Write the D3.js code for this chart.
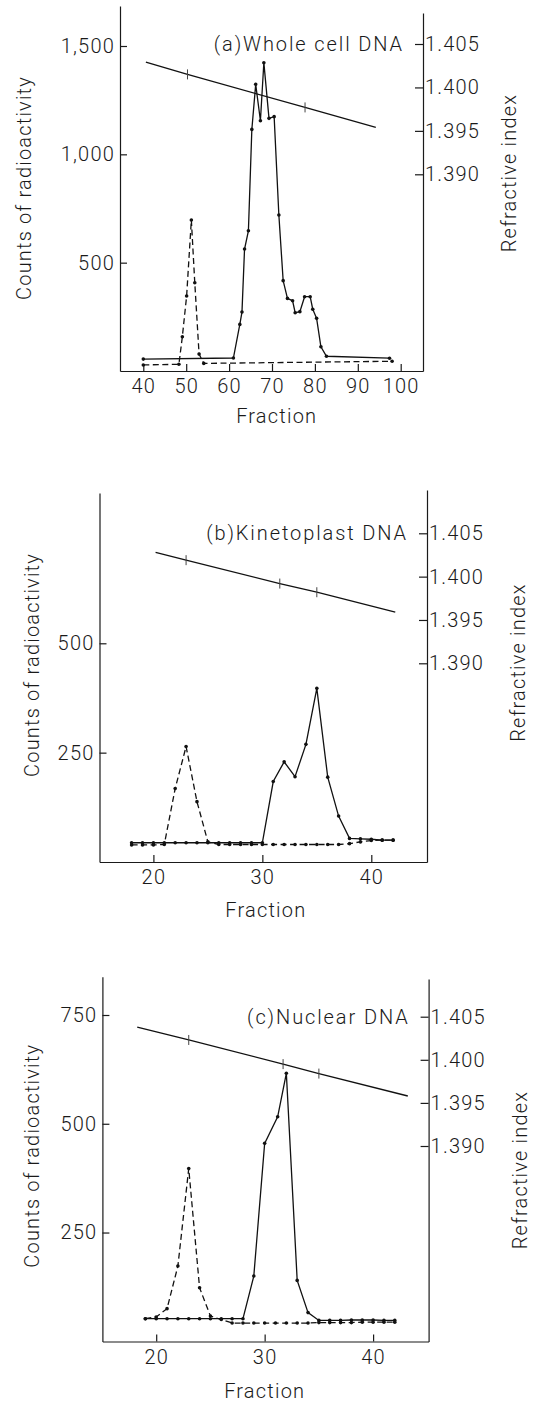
<!DOCTYPE html>
<html>
<head>
<meta charset="utf-8">
<script src="https://cdn.jsdelivr.net/npm/d3@7"></script>
<style>
  body { margin: 0; background: #fff; }
  svg text { font-family: Roboto, "Liberation Sans", sans-serif; font-weight: 300; fill: #1a1a1a; letter-spacing: 1.2px; }
  .axis path, .axis line { stroke: #1a1a1a; stroke-width: 1.2; }
  .axis text { font-size: 20px; }
  .label { font-size: 20px; }
  .title { font-size: 20px; letter-spacing: 1.9px; }
  .series { fill: none; stroke: #111; stroke-width: 1.3; }
</style>
</head>
<body>
<script>
//Tick labels shared by all panels
const riTicks = [1.390, 1.395, 1.400, 1.405];

//(a) Whole cell DNA
const fracTicksA = [40, 50, 60, 70, 80, 90, 100];
const countTicksA = [500, 1000, 1500];
const solidFracA = [40, 61, 62.5, 63, 63.6, 64.5, 65.3, 66.2, 67.3, 68.1, 69.3, 70.5, 71.6, 72.6, 73.6, 74.8, 75.4, 76.5, 77.6, 78.9, 79.5, 80.4, 81.4, 82.7, 97.4];
const solidCountA = [55, 60, 215, 272, 563, 647, 1115, 1323, 1155, 1423, 1166, 1174, 720, 417, 335, 324, 269, 274, 343, 343, 285, 243, 112, 68, 59];
const dashedFracA = [40, 48.3, 49.1, 50.1, 51.2, 52, 53, 54.1, 98];
const dashedCountA = [28, 31, 158, 346, 697, 407, 78, 35, 45];
const riFracA = [40.6, 50.3, 77.7, 94.2];
const riValueA = [1.4029, 1.4015, 1.3977, 1.3954];

//(b) Kinetoplast DNA
const fracTicksB = [20, 30, 40];
const countTicksB = [250, 500];
const solidFracB = [18, 19, 20, 21, 22, 23, 24, 25, 26, 27, 28, 29, 30, 31, 32, 33, 34, 35, 36, 37, 38, 39, 40, 41, 42];
const solidCountB = [44, 44, 44, 44, 44, 44, 44, 44, 44, 44, 44, 44, 44, 184, 229, 195, 269, 397, 194, 105, 54, 53, 52, 50, 50];
const dashedFracB = [18, 19, 20, 21, 22, 23, 24, 25, 26, 27, 28, 29, 30, 31, 32, 33, 34, 35, 36, 37, 38, 39, 40, 41, 42];
const dashedCountB = [39, 39, 39, 40, 168, 264, 138, 46, 40, 40, 40, 40, 40, 40, 40, 40, 40, 40, 40, 40, 42, 46, 49, 50, 50];
const riFracB = [20.2, 23, 31.6, 35, 42.2];
const riValueB = [1.4028, 1.4019, 1.3992, 1.3982, 1.3959];

//(c) Nuclear DNA
const fracTicksC = [20, 30, 40];
const countTicksC = [250, 500, 750];
const solidFracC = [19, 20, 21, 22, 23, 24, 25, 26, 27, 28, 29, 30, 31.2, 32, 33, 34, 35, 36, 37, 38, 39, 40, 41, 42];
const solidCountC = [52, 52, 52, 52, 52, 52, 52, 52, 52, 52, 150, 455, 516, 616, 140, 66, 48, 48, 48, 49, 49, 49, 48, 48];
const dashedFracC = [19, 20, 21, 22, 23, 24, 25, 26, 27, 28, 29, 30, 31, 32, 33, 34, 35, 36, 37, 38, 39, 40, 41, 42];
const dashedCountC = [52, 56, 75, 173, 397, 123, 58, 50, 42, 42, 42, 42, 42, 42, 42, 42, 43, 43, 43, 43, 44, 44, 44, 44];
const riFracC = [18.25, 23, 31.7, 35, 43.2];
const riValueC = [1.4038, 1.4023, 1.3995, 1.3984, 1.3958];

//Panel frames in pixels, calibrated on two ticks of each axis
const panels = [
    {title: '(a)Whole cell DNA', left: 120, right: 423, bottom: 371, leftTop: 6, rightTop: 13,
     xCal: [[40, 143.3], [100, 400.7]], cCal: [[0, 371], [1500, 46]], riCal: [[1.405, 44], [1.390, 174.3]],
     yTitle: [25, 188], riTitle: [509.5, 173], xTitle: [276.7, 422.6],
     fracTicks: fracTicksA, countTicks: countTicksA,
     solid: d3.zip(solidFracA, solidCountA), dashed: d3.zip(dashedFracA, dashedCountA), ri: d3.zip(riFracA, riValueA)},
    {title: '(b)Kinetoplast DNA', left: 99.5, right: 427, bottom: 862, leftTop: 493, rightTop: 490,
     xCal: [[20, 153.4], [40, 371.3]], cCal: [[0, 862], [500, 643.3]], riCal: [[1.405, 533.3], [1.390, 663.3]],
     yTitle: [32.8, 665], riTitle: [519, 662.5], xTitle: [265.8, 916.7],
     fracTicks: fracTicksB, countTicks: countTicksB,
     solid: d3.zip(solidFracB, solidCountB), dashed: d3.zip(dashedFracB, dashedCountB), ri: d3.zip(riFracB, riValueB)},
    {title: '(c)Nuclear DNA', left: 102.4, right: 428.6, bottom: 1341.5, leftTop: 976.7, rightTop: 979,
     xCal: [[20, 156.2], [40, 373.1]], cCal: [[0, 1341.3], [750, 1015]], riCal: [[1.405, 1016.7], [1.390, 1146]],
     yTitle: [32.8, 1155.8], riTitle: [520.7, 1170], xTitle: [264.7, 1398],
     fracTicks: fracTicksC, countTicks: countTicksC,
     solid: d3.zip(solidFracC, solidCountC), dashed: d3.zip(dashedFracC, dashedCountC), ri: d3.zip(riFracC, riValueC)}
];

const svg = d3.select('body').append('svg')
    .attr('width', 541)
    .attr('height', 1403);

//Build a scale from two calibration ticks, then stretch it to the axis ends
const calScale = function(cal, a, b) {
    let s = d3.scaleLinear().domain([cal[0][0], cal[1][0]]).range([cal[0][1], cal[1][1]]);
    return s.domain([s.invert(a), s.invert(b)]).range([a, b]);
};

panels.forEach(p => {
    let x = calScale(p.xCal, p.left, p.right);
    let y = calScale(p.cCal, p.bottom, p.leftTop);
    let ri = calScale(p.riCal, p.bottom, p.rightTop);

    //Axes, ticks pointing inward
    svg.append('g')
        .attr('class', 'axis')
        .attr('transform', `translate(0, ${p.bottom})`)
        .call(d3.axisBottom(x).tickValues(p.fracTicks).tickSizeInner(-7).tickSizeOuter(0).tickPadding(8))
        .call(g => g.selectAll('text').attr('dy', '0.71em'));

    svg.append('g')
        .attr('class', 'axis')
        .attr('transform', `translate(${p.left}, 0)`)
        .call(d3.axisLeft(y).tickValues(p.countTicks).tickFormat(d3.format(',')).tickSizeInner(-7).tickSizeOuter(0).tickPadding(5));

    svg.append('g')
        .attr('class', 'axis')
        .attr('transform', `translate(${p.right}, 0)`)
        .call(d3.axisRight(ri).tickValues(riTicks).tickFormat(d3.format('.3f')).tickSizeInner(-8).tickSizeOuter(0).tickPadding(2));

    svg.selectAll('.axis text').style('letter-spacing', '1.2px');

    //Refractive index line with its measured points
    svg.append('path')
        .attr('class', 'series')
        .attr('d', d3.line().x(d => x(d[0])).y(d => ri(d[1]))(p.ri));

    svg.append('g').selectAll('line')
        .data(p.ri.slice(1, -1))
        .enter()
        .append('line')
        .attr('x1', d => x(d[0])).attr('x2', d => x(d[0]))
        .attr('y1', d => ri(d[1]) - 5).attr('y2', d => ri(d[1]) + 5)
        .style('stroke', '#444').style('stroke-width', 1);

    //Counts: solid and dashed profiles
    let line = d3.line().x(d => x(d[0])).y(d => y(d[1]));

    svg.append('path')
        .attr('class', 'series')
        .attr('d', line(p.dashed))
        .style('stroke-dasharray', '6,3.5');

    svg.append('path')
        .attr('class', 'series')
        .attr('d', line(p.solid));

    svg.append('g').selectAll('circle')
        .data(p.solid.concat(p.dashed))
        .enter()
        .append('circle')
        .attr('cx', d => x(d[0]))
        .attr('cy', d => y(d[1]))
        .attr('r', 1.8)
        .style('fill', '#111');

    //Texts
    svg.append('text')
        .attr('class', 'title')
        .attr('x', p.right - 19)
        .attr('y', ri(1.405))
        .attr('dy', '0.35em')
        .style('text-anchor', 'end')
        .text(p.title);

    svg.append('text')
        .attr('class', 'label')
        .attr('transform', `translate(${p.yTitle[0]}, ${p.yTitle[1]}) rotate(-90)`)
        .attr('dy', '0.3em')
        .style('text-anchor', 'middle')
        .text('Counts of radioactivity');

    svg.append('text')
        .attr('class', 'label')
        .attr('transform', `translate(${p.riTitle[0]}, ${p.riTitle[1]}) rotate(-90)`)
        .attr('dy', '0.3em')
        .style('text-anchor', 'middle')
        .text('Refractive index');

    svg.append('text')
        .attr('class', 'label')
        .attr('x', p.xTitle[0])
        .attr('y', p.xTitle[1])
        .style('text-anchor', 'middle')
        .text('Fraction');
});
</script>
</body>
</html>
